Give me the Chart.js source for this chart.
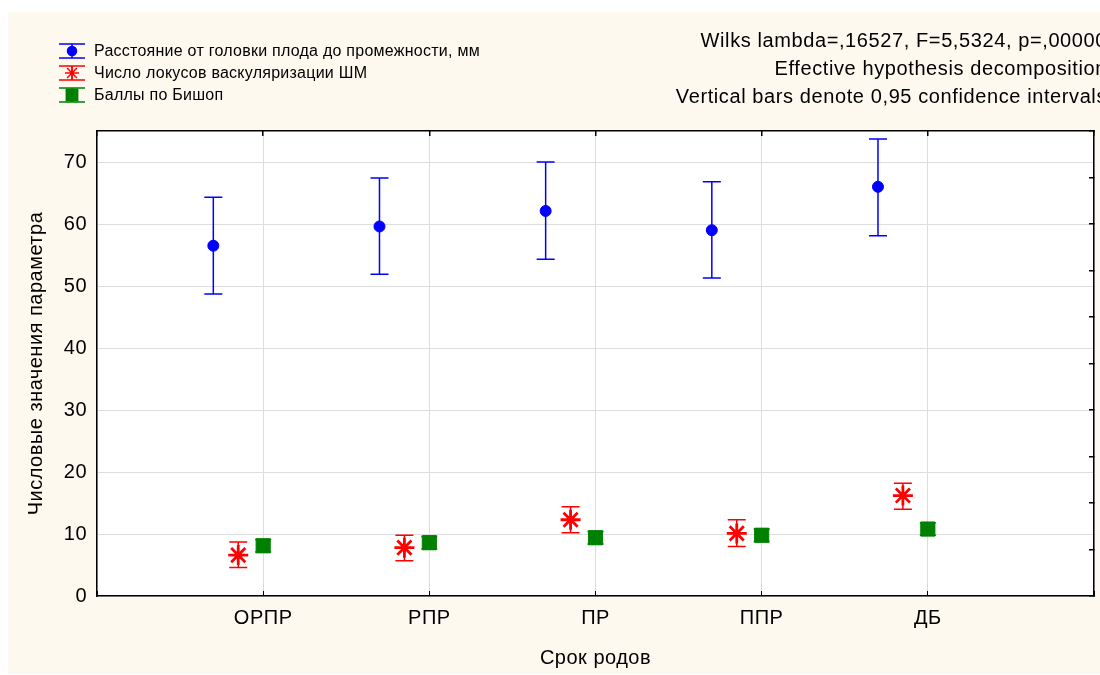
<!DOCTYPE html>
<html>
<head>
<meta charset="utf-8">
<script src="https://cdn.jsdelivr.net/npm/chart.js@4.4.1/dist/chart.umd.min.js"></script>
<style>
  html, body { margin: 0; padding: 0; background: #ffffff; }
  #wrap { width: 1100px; height: 675px; position: relative; }
</style>
</head>
<body>
<div id="wrap"><canvas id="c" width="1100" height="675"></canvas></div>
<script>
// ---- data ----
const categories = ['ОРПР', 'РПР', 'ПР', 'ППР', 'ДБ'];

const seriesNames = [
  'Расстояние от головки плода до промежности, мм',
  'Число локусов васкуляризации ШМ',
  'Баллы по Бишоп'
];

const distMean = [56.5, 59.6, 62.1, 59.0, 66.0];
const distLow  = [48.7, 51.9, 54.3, 51.3, 58.1];
const distHigh = [64.3, 67.4, 70.0, 66.8, 73.7];

const lociMean = [6.6, 7.8, 12.3, 10.1, 16.2];
const lociLow  = [4.6, 5.7, 10.2, 8.0, 14.0];
const lociHigh = [8.7, 9.8, 14.4, 12.3, 18.2];

const bishopMean = [8.1, 8.6, 9.4, 9.8, 10.8];
const bishopLow  = [7.1, 7.6, 8.4, 8.8, 9.8];
const bishopHigh = [9.1, 9.6, 10.4, 10.8, 11.8];

const yTickValues = [0, 10, 20, 30, 40, 50, 60, 70];

const infoLines = [
  'Wilks lambda=,16527, F=5,5324, p=,00000',
  'Effective hypothesis decomposition',
  'Vertical bars denote 0,95 confidence intervals'
];

const xTitle = 'Срок родов';
const yTitle = 'Числовые значения параметра';

// ---- chart construction ----
const FONT = '"Liberation Sans", Arial, sans-serif';
const BLUE = '#0000FF', RED = '#FF0000', GREEN = '#008000';

function pts(means, shift) {
  return means.map((v, i) => ({ x: i + 1 + shift, y: v }));
}

const datasets = [
  { label: seriesNames[0], data: pts(distMean, -0.3), low: distLow, high: distHigh,
    pointStyle: 'circle', pointRadius: 5.5, pointHoverRadius: 5.5,
    backgroundColor: BLUE, borderColor: BLUE, borderWidth: 1, capHalf: 9 },
  { label: seriesNames[1], data: pts(lociMean, -0.15), low: lociLow, high: lociHigh,
    pointStyle: 'star', pointRadius: 10, pointHoverRadius: 10,
    backgroundColor: RED, borderColor: RED, borderWidth: 2.8, capHalf: 9 },
  { label: seriesNames[2], data: pts(bishopMean, 0), low: bishopLow, high: bishopHigh,
    pointStyle: 'rect', pointRadius: 10, pointHoverRadius: 10,
    backgroundColor: GREEN, borderColor: GREEN, borderWidth: 1, capHalf: 8 }
];

const bgPlugin = {
  id: 'bg',
  beforeDraw(chart) {
    const ctx = chart.ctx, a = chart.chartArea;
    ctx.letterSpacing = '0.5px';
    ctx.save();
    ctx.fillStyle = '#ffffff';
    ctx.fillRect(0, 0, chart.width, chart.height);
    ctx.fillStyle = '#FEF9EE';
    ctx.fillRect(8, 12, chart.width - 8, 662);
    ctx.fillStyle = '#ffffff';
    ctx.fillRect(a.left, a.top, a.right - a.left, a.bottom - a.top);
    ctx.restore();
  }
};

const errPlugin = {
  id: 'errbars',
  beforeDatasetsDraw(chart) {
    const ctx = chart.ctx, ys = chart.scales.y;
    ctx.save();
    chart.data.datasets.forEach((ds, di) => {
      const meta = chart.getDatasetMeta(di);
      ctx.strokeStyle = ds.borderColor;
      ctx.lineWidth = 1.5;
      meta.data.forEach((pt, i) => {
        const x = pt.x;
        const y1 = ys.getPixelForValue(ds.low[i]);
        const y2 = ys.getPixelForValue(ds.high[i]);
        ctx.beginPath();
        ctx.moveTo(x, y1); ctx.lineTo(x, y2);
        ctx.moveTo(x - ds.capHalf, y1); ctx.lineTo(x + ds.capHalf, y1);
        ctx.moveTo(x - ds.capHalf, y2); ctx.lineTo(x + ds.capHalf, y2);
        ctx.stroke();
      });
    });
    ctx.restore();
  }
};

const textPlugin = {
  id: 'texts',
  afterDraw(chart) {
    const ctx = chart.ctx;
    ctx.save();
    // legend
    chart.data.datasets.forEach((ds, i) => {
      const cy = 51 + i * 22;
      ctx.strokeStyle = ds.borderColor;
      ctx.lineWidth = 1.5;
      ctx.beginPath();
      ctx.moveTo(59, cy - 7); ctx.lineTo(85, cy - 7);
      ctx.moveTo(59, cy + 7); ctx.lineTo(85, cy + 7);
      ctx.moveTo(72, cy - 7); ctx.lineTo(72, cy + 7);
      ctx.stroke();
      ctx.fillStyle = ds.backgroundColor;
      Chart.helpers.drawPoint(ctx, {
        pointStyle: ds.pointStyle,
        radius: ds.pointStyle === 'circle' ? 4.5 : (ds.pointStyle === 'rect' ? 8 : 7),
        rotation: 0,
        borderWidth: ds.pointStyle === 'star' ? 2.2 : 1
      }, 72, cy);
      ctx.fillStyle = '#000';
      ctx.letterSpacing = '0.25px';
      ctx.font = '16px ' + FONT;
      ctx.textAlign = 'left';
      ctx.textBaseline = 'middle';
      ctx.fillText(ds.label, 94, cy + 1);
    });
    // info lines
    ctx.letterSpacing = '0.6px';
    ctx.font = '20px ' + FONT;
    ctx.fillStyle = '#000';
    ctx.textAlign = 'right';
    ctx.textBaseline = 'middle';
    infoLines.forEach((t, i) => ctx.fillText(t, 1107, 41 + i * 28));
    ctx.restore();
  }
};

const xTick = v => (Number.isInteger(v) && v >= 1 && v <= categories.length) ? categories[v - 1] : '';

const zeroPad = () => ({ left: 0, top: 0, right: 0, bottom: 0 });
function fixH(s, h) {
  s.height = h;
  s.paddingLeft = 0; s.paddingRight = 0; s.paddingTop = 0; s.paddingBottom = 0;
  s.getPadding = zeroPad;
}
function fixV(s, w) {
  s.width = w;
  s.paddingLeft = 0; s.paddingRight = 0; s.paddingTop = 0; s.paddingBottom = 0;
  s.getPadding = zeroPad;
}

new Chart(document.getElementById('c'), {
  type: 'scatter',
  data: { datasets },
  options: {
    responsive: false,
    animation: false,
    devicePixelRatio: 1,
    layout: { autoPadding: false, padding: { left: 0, right: 0, top: 131, bottom: 0 } },
    plugins: { legend: { display: false }, tooltip: { enabled: false } },
    scales: {
      x: {
        type: 'linear', position: 'bottom', min: 0, max: categories.length + 1,
        afterFit(s) { fixH(s, 79); },
        ticks: { stepSize: 1, callback: xTick, color: '#000', font: { size: 20, family: FONT }, padding: 15, maxRotation: 0, autoSkip: false },
        grid: { color: '#dddddd', lineWidth: 1, tickLength: -5, tickColor: '#000', drawTicks: true },
        border: { color: '#000', width: 1.5 },
        title: { display: true, text: xTitle, color: '#000', font: { size: 20, family: FONT }, padding: { top: 0, bottom: 5 } }
      },
      x2: {
        type: 'linear', position: 'top', min: 0, max: categories.length + 1,
        afterFit(s) { fixH(s, 0); },
        ticks: { stepSize: 1, display: false },
        grid: { drawOnChartArea: false, tickLength: -5, tickColor: '#000', lineWidth: 1.5 },
        border: { color: '#000', width: 1.5 }
      },
      y: {
        type: 'linear', position: 'left', min: 0, max: 75,
        afterFit(s) { fixV(s, 97); },
        afterBuildTicks(s) { s.ticks = yTickValues.map(v => ({ value: v })); },
        ticks: { color: '#000', font: { size: 20, family: FONT }, padding: 10 },
        grid: { color: '#dddddd', lineWidth: 1, drawTicks: false },
        border: { color: '#000', width: 1.5 },
        title: { display: true, text: yTitle, color: '#000', font: { size: 20, family: FONT }, padding: { top: 24, bottom: 0 } }
      },
      y2: {
        type: 'linear', position: 'right', min: 0, max: 75,
        afterFit(s) { fixV(s, 6); },
        ticks: { stepSize: 7.5, display: false },
        grid: { drawOnChartArea: false, tickLength: -5, tickColor: '#000', lineWidth: 1.5 },
        border: { color: '#000', width: 1.5 }
      }
    }
  },
  plugins: [bgPlugin, errPlugin, textPlugin]
});
</script>
</body>
</html>
